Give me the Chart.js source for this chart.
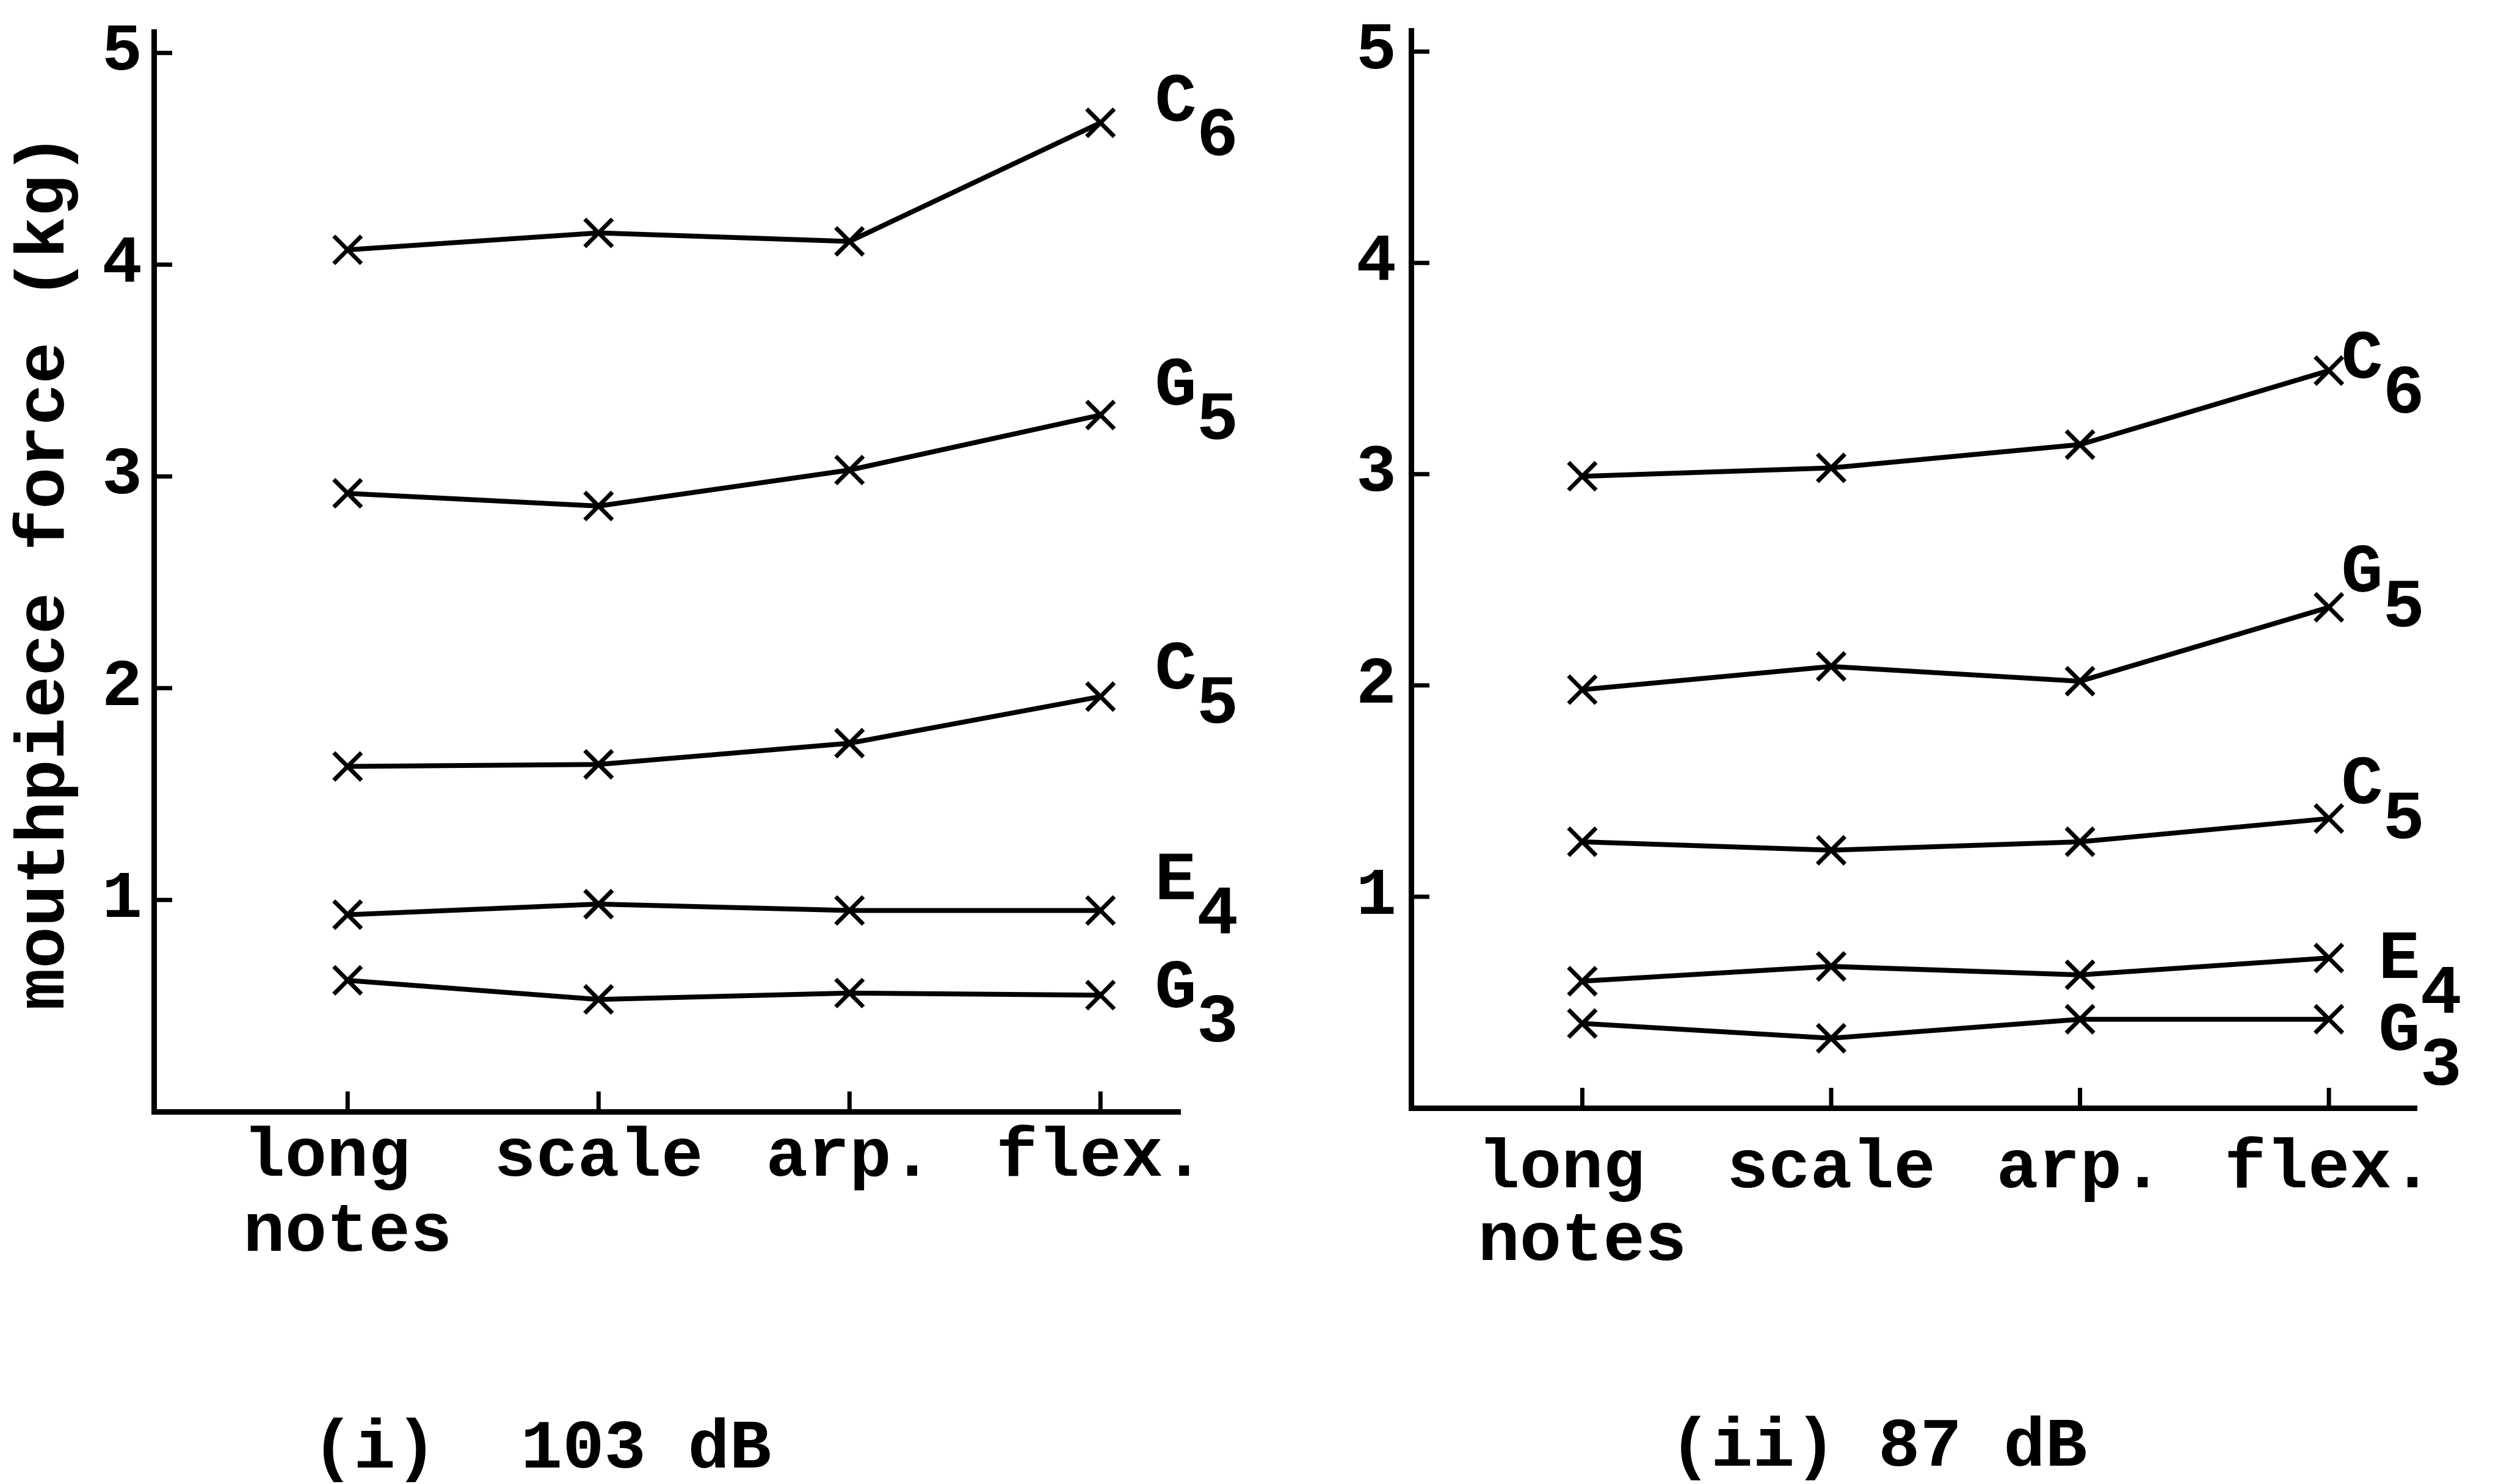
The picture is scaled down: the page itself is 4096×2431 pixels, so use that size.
<!DOCTYPE html>
<html>
<head>
<meta charset="utf-8">
<title>Mouthpiece force</title>
<script src="https://cdn.jsdelivr.net/npm/chart.js@4.4.1/dist/chart.umd.min.js"></script>
<style>
  html, body { margin: 0; padding: 0; background: #fff; overflow: hidden; }
  #wrap { position: relative; width: 4096px; height: 2431px; }
  canvas { position: absolute; top: 0; }
  #chart103 { left: 0; }
  #chart87 { left: 2050px; }
</style>
</head>
<body>
<div id="wrap">
  <canvas id="chart103" width="2050" height="2431"></canvas>
  <canvas id="chart87" width="2046" height="2431"></canvas>
</div>
<script>
// Playing styles along the x axis
const categories = ['long notes', 'scale', 'arp.', 'flex.'];
const noteNames = ['C6', 'G5', 'C5', 'E4', 'G3'];
const yTicks = [1, 2, 3, 4, 5];
const yTitle = 'mouthpiece force (kg)';
const captions = ['(i)  103 dB', '(ii) 87 dB'];

// Mouthpiece force at 103 dB (kg)
const c6At103 = [4.07, 4.15, 4.11, 4.67];
const g5At103 = [2.92, 2.86, 3.03, 3.29];
const c5At103 = [1.63, 1.64, 1.74, 1.96];
const e4At103 = [0.93, 0.98, 0.95, 0.95];
const g3At103 = [0.62, 0.53, 0.56, 0.55];

// Mouthpiece force at 87 dB (kg)
const c6At87 = [2.99, 3.03, 3.14, 3.49];
const g5At87 = [1.98, 2.09, 2.02, 2.37];
const c5At87 = [1.26, 1.22, 1.26, 1.37];
const e4At87 = [0.60, 0.67, 0.63, 0.71];
const g3At87 = [0.40, 0.33, 0.42, 0.42];

const MONO = '"Liberation Mono", "DejaVu Sans Mono", monospace';
const INK = '#000';

// Two-word labels are stacked, padded so the lines start together
function tickLabel(value) {
    const label = categories[value];
    if (label === undefined) return '';
    const words = label.split(' ');
    if (words.length === 1) return label;
    const width = Math.max(...words.map((w) => w.length));
    return words.map((w) => w.padEnd(width, ' '));
}

// Short tick marks pointing into the plot area
const inwardTicks = {
    id: 'inwardTicks',
    afterDraw(chart) {
        const { ctx, chartArea, scales } = chart;
        ctx.save();
        ctx.strokeStyle = INK;
        ctx.lineWidth = 7;
        ctx.beginPath();
        scales.y.ticks.forEach((t) => {
            const py = scales.y.getPixelForValue(t.value);
            ctx.moveTo(chartArea.left, py);
            ctx.lineTo(chartArea.left + 30, py);
        });
        scales.x.ticks.forEach((t) => {
            const px = scales.x.getPixelForValue(t.value);
            ctx.moveTo(px, chartArea.bottom);
            ctx.lineTo(px, chartArea.bottom - 33);
        });
        ctx.stroke();
        ctx.restore();
    },
};

// Note name with subscript octave next to the last point of each line
const noteLabels = {
    id: 'noteLabels',
    afterDatasetsDraw(chart, args, opts) {
        const { ctx } = chart;
        ctx.save();
        ctx.fillStyle = INK;
        ctx.font = 'bold 114px ' + MONO;
        ctx.textAlign = 'left';
        ctx.textBaseline = 'alphabetic';
        const capHalf = 39; // half the cap height, puts the letter centre on y
        chart.data.datasets.forEach((ds, i) => {
            const pts = chart.getDatasetMeta(i).data;
            const last = pts[pts.length - 1];
            const [dx, dy] = opts.offsets[i];
            const letter = ds.label.charAt(0);
            const x = last.x + dx;
            const y = last.y + dy + capHalf;
            ctx.fillText(letter, x, y);
            ctx.fillText(ds.label.slice(1), x + ctx.measureText(letter).width, y + opts.drop);
        });
        ctx.restore();
    },
};

// Panel caption under the axis labels
const caption = {
    id: 'caption',
    afterDraw(chart, args, opts) {
        const { ctx } = chart;
        ctx.save();
        ctx.fillStyle = INK;
        ctx.font = 'bold 114px ' + MONO;
        ctx.textAlign = 'center';
        ctx.textBaseline = 'alphabetic';
        ctx.fillText(opts.text, opts.x, opts.y);
        ctx.restore();
    },
};

function buildChart(canvasId, series, cfg) {
    const ctx = document.getElementById(canvasId).getContext('2d');
    return new Chart(ctx, {
        type: 'line',
        data: {
            datasets: series.map((values, i) => ({
                label: noteNames[i],
                data: values.map((v, j) => ({ x: j, y: v })),
                borderColor: INK,
                borderWidth: 8,
                pointStyle: 'crossRot',
                pointRadius: 32,
                pointBorderWidth: 7,
                pointBorderColor: INK,
                pointBackgroundColor: INK,
                fill: false,
                tension: 0,
            })),
        },
        options: {
            responsive: false,
            animation: false,
            layout: { padding: cfg.padding },
            plugins: {
                legend: { display: false },
                tooltip: { enabled: false },
                noteLabels: { offsets: cfg.labelOffsets, drop: cfg.labelDrop },
                caption: cfg.caption,
            },
            scales: {
                x: {
                    type: 'linear',
                    min: cfg.xMin,
                    max: cfg.xMax,
                    afterBuildTicks: (scale) => {
                        scale.ticks = categories.map((_, i) => ({ value: i }));
                    },
                    afterFit: (scale) => {
                        scale.height = 300;
                        scale.paddingLeft = 0;
                        scale.paddingRight = 0;
                    },
                    grid: { display: false, drawTicks: false },
                    border: { display: true, color: INK, width: 9 },
                    ticks: {
                        autoSkip: false,
                        maxRotation: 0,
                        minRotation: 0,
                        padding: cfg.xPad,
                        color: INK,
                        font: { family: MONO, size: 114, weight: 'bold', lineHeight: cfg.xLineHeight },
                        callback: (value) => tickLabel(value),
                    },
                },
                y: {
                    type: 'linear',
                    min: 0,
                    max: 5.1,
                    afterBuildTicks: (scale) => {
                        scale.ticks = yTicks.map((v) => ({ value: v }));
                    },
                    afterFit: (scale) => {
                        scale.width = cfg.yWidth;
                        scale.paddingTop = 0;
                        scale.paddingBottom = 0;
                    },
                    grid: { display: false, drawTicks: false },
                    border: { display: true, color: INK, width: 9 },
                    ticks: {
                        padding: cfg.yPad,
                        color: INK,
                        font: { family: MONO, size: 110, weight: 'bold', lineHeight: 1 },
                    },
                    title: {
                        display: cfg.showTitle,
                        text: yTitle,
                        color: INK,
                        padding: { top: 7, bottom: 0 },
                        font: { family: MONO, size: 114, weight: 'bold', lineHeight: 1.2 },
                    },
                },
            },
        },
        plugins: [inwardTicks, noteLabels, caption],
    });
}

document.addEventListener('DOMContentLoaded', () => {
    buildChart('chart103', [c6At103, g5At103, c5At103, e4At103, g3At103], {
        xMin: -0.772,
        xMax: 3.318,
        yWidth: 252,
        padding: { top: 52, right: 117, bottom: 310, left: 0 },
        xPad: 15,
        xLineHeight: 1.08,
        yPad: 19,
        showTitle: true,
        labelOffsets: [[89, -42], [89, -56], [89, -52], [89, -57], [89, -19]],
        labelDrop: 56,
        caption: { text: captions[0], x: 887, y: 2404 },
    });

    buildChart('chart87', [c6At87, g5At87, c5At87, e4At87, g3At87], {
        xMin: -0.688,
        xMax: 3.353,
        yWidth: 261,
        padding: { top: 50, right: 138, bottom: 316, left: 0 },
        xPad: 42,
        xLineHeight: 1.04,
        yPad: 24,
        showTitle: false,
        labelOffsets: [[20, -27], [20, -65], [20, -64], [81, -6], [81, 11]],
        labelDrop: 57,
        caption: { text: captions[1], x: 1026, y: 2401 },
    });
});
</script>
</body>
</html>
